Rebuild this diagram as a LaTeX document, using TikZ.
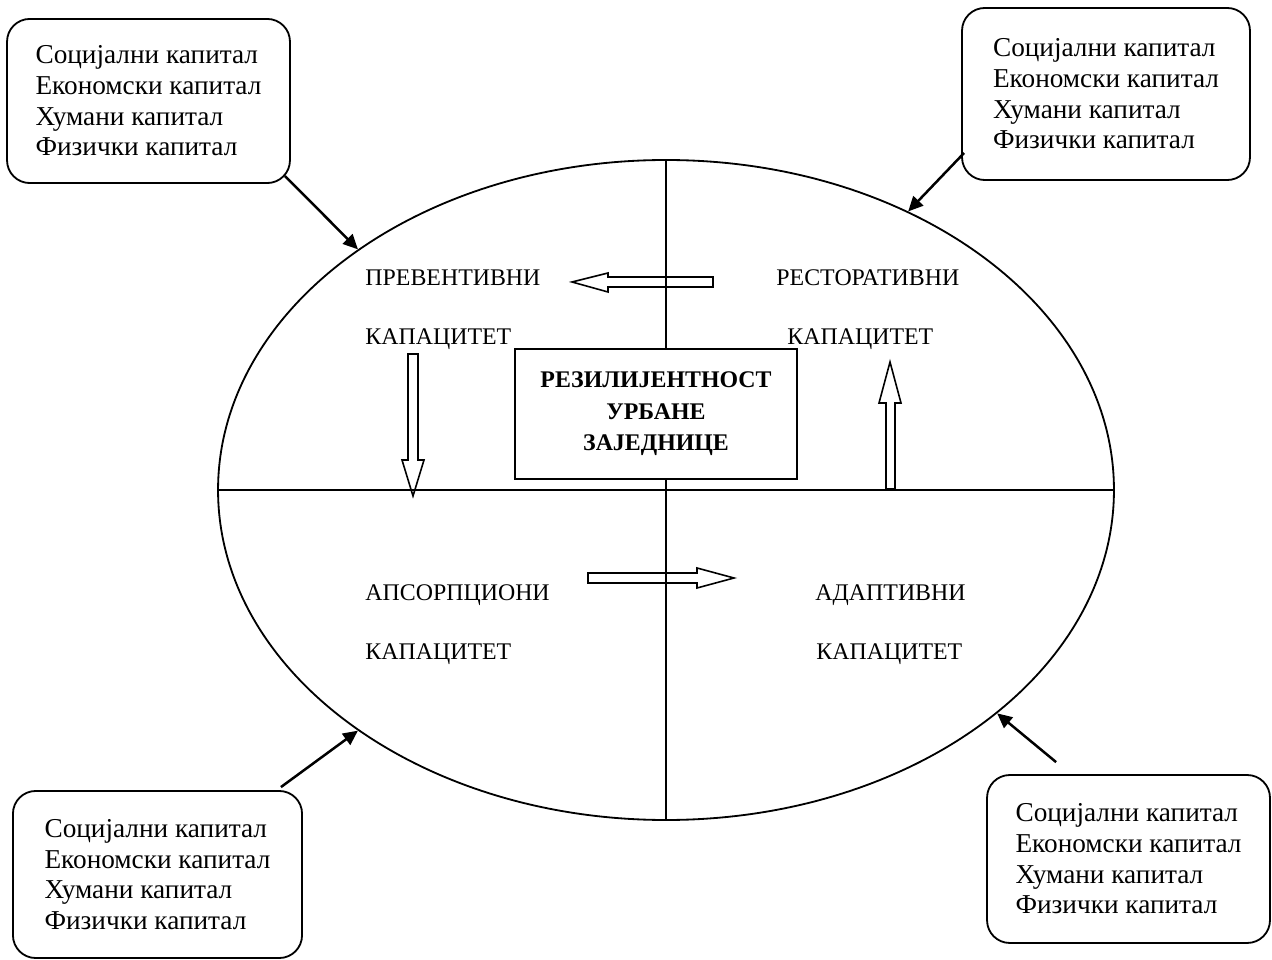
\documentclass[tikz,border=0pt]{standalone}
\usepackage{fontspec}
\setmainfont{Liberation Serif}
\usetikzlibrary{
    arrows.meta,
    shapes.geometric,
    positioning
}
\newcommand{\capitallist}{Социјални капитал\\Економски капитал\\Хумани капитал\\Физички капитал}
\tikzset{
    capbox/.style={draw, line width=0.8pt, rounded corners=10pt, align=left,
        font=\fontsize{12}{13.5}\selectfont},
    core/.style={draw, fill=white, line width=0.8pt, align=center, minimum width=124pt,
        minimum height=57.2pt, font=\fontsize{10.5}{13.9}\selectfont\bfseries},
    capword/.style={anchor=base west, inner sep=0pt, font=\fontsize{10.5}{12}\selectfont},
    hollow/.style={draw, line width=0.7pt, line join=miter},
    link/.style={line width=1.1pt, -{Triangle[length=6.5pt,width=6pt]}}
}

\begin{document}
\begin{tikzpicture}[x=0.44pt, y=-0.44pt]
    \useasboundingbox (0,0) rectangle (1272,960);
    % ring and quadrants
    \node[draw, ellipse, line width=0.8pt, inner sep=0pt,
        minimum width=394.2pt, minimum height=290.4pt] (ring) at (666,490) {};
    \draw[line width=0.7pt] (ring.north) -- (ring.south);
    \draw[line width=0.7pt] (ring.west) -- (ring.east);
    \node[core] (core) at (656,414) {РЕЗИЛИЈЕНТНОСТ\\УРБАНЕ\\ЗАЈЕДНИЦЕ};
    % capacities
    \node[capword] (prev) at (365,286) {ПРЕВЕНТИВНИ};
    \node[capword] (prevcap) at (365,345) {КАПАЦИТЕТ};
    \node[capword] (rest) at (776,286) {РЕСТОРАТИВНИ};
    \node[capword] (restcap) at (787,345) {КАПАЦИТЕТ};
    \node[capword] (apso) at (365,600) {АПСОРПЦИОНИ};
    \node[capword] (apsocap) at (365,659) {КАПАЦИТЕТ};
    \node[capword] (adap) at (815,600) {АДАПТИВНИ};
    \node[capword] (adapcap) at (816,659) {КАПАЦИТЕТ};
    % block arrows between quadrants
    \draw[hollow] (713,277) -- (608,277) -- (608,273) -- (572,282) -- (608,292) -- (608,287) -- (713,287) -- cycle;
    \draw[hollow] (408,354) -- (418,354) -- (418,460) -- (424,460) -- (413,496) -- (402,460) -- (408,460) -- cycle;
    \draw[hollow] (886,489) -- (886,403) -- (879,403) -- (890,362) -- (901,403) -- (895,403) -- (895,489) -- cycle;
    \draw[hollow] (588,573) -- (697,573) -- (697,568) -- (734,578) -- (697,588) -- (697,583) -- (588,583) -- cycle;
    % capitals
    \node[capbox, minimum width=124.5pt, minimum height=72.2pt] (tl) at (148.5,101) {\capitallist};
    \node[capbox, minimum width=126.7pt, minimum height=75.7pt] (tr) at (1106,94) {\capitallist};
    \node[capbox, minimum width=127.2pt, minimum height=73.5pt] (bl) at (157.5,874.5) {\capitallist};
    \node[capbox, minimum width=124.5pt, minimum height=73.9pt] (br) at (1128.5,859) {\capitallist};
    \draw[link] ([shift={(-6,-8)}]tl.south east) -- (ring.142);
    \draw[link] ([shift={(3,-28)}]tr.south west) -- (ring.49);
    \draw[link] ([shift={(-22,-3)}]bl.north east) -- (ring.218);
    \draw[link] ([shift={(70,-12)}]br.north west) -- (ring.326);
\end{tikzpicture}
\end{document}
